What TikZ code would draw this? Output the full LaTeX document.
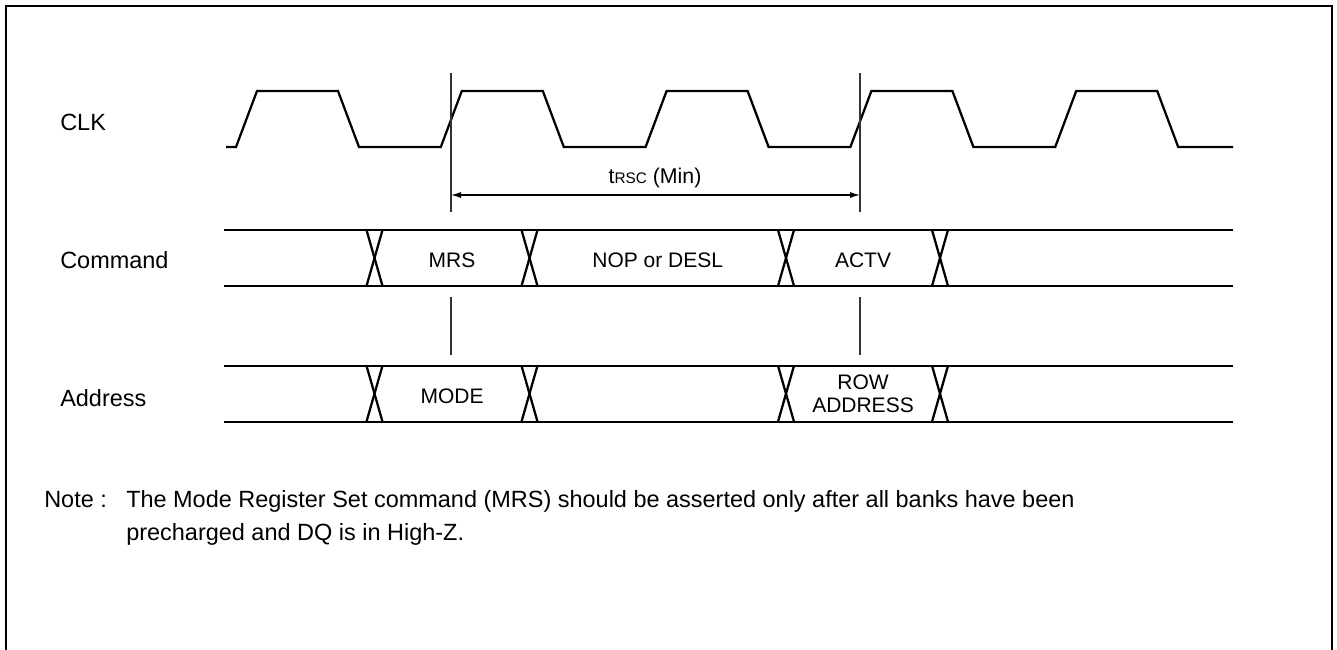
\documentclass[tikz,border=0pt]{standalone}
\usepackage{fontspec}
\setmainfont{Liberation Sans}
\usetikzlibrary{arrows.meta}
\begin{document}
\begin{tikzpicture}[x=0.75pt,y=-0.75pt,
  frame/.style={line width=1.8pt},
  wave/.style={line width=1.7pt, line join=miter},
  busline/.style={line width=1.7pt},
  guide/.style={line width=0.85pt, draw=black!80},
  dim/.style={line width=0.85pt, {Latex[length=7.5pt,width=4.5pt]}-{Latex[length=7.5pt,width=4.5pt]}},
  lbl/.style={font=\fontsize{17.6}{21}\selectfont, inner sep=0pt, anchor=base west},
  bustxt/.style={font=\fontsize{15.75}{17.6}\selectfont, inner sep=0pt, anchor=base},
]
\useasboundingbox (0,0) rectangle (1337,649);
% frame
\draw[frame] (6,660) -- (6,6) -- (1332,6) -- (1332,660);

% signal labels
\node[lbl] (clk) at (60,131) {CLK};
\node[lbl] (cmd) at (60,268.3) {Command};
\node[lbl] (addr) at (60,406.7) {Address};

% clock waveform
\draw[wave] (226,147) -- (236,147) -- (257,91) -- (338,91) -- (359,147)
  -- (440.8,147) -- (461.8,91) -- (542.8,91) -- (563.8,147)
  -- (645.6,147) -- (666.6,91) -- (747.6,91) -- (768.6,147)
  -- (850.4,147) -- (871.4,91) -- (952.4,91) -- (973.4,147)
  -- (1055.2,147) -- (1076.2,91) -- (1157.2,91) -- (1178.2,147) -- (1233,147);

% timing guides
\coordinate (g1a) at (451,73);   \coordinate (g1b) at (451,212);
\coordinate (g2a) at (860,73);   \coordinate (g2b) at (860,212);
\coordinate (g1c) at (451,297);  \coordinate (g1d) at (451,355);
\coordinate (g2c) at (860,297);  \coordinate (g2d) at (860,355);
\draw[guide] (g1a) -- (g1b);
\draw[guide] (g2a) -- (g2b);
\draw[guide] (g1c) -- (g1d);
\draw[guide] (g2c) -- (g2d);
\coordinate (d1) at (451,195);
\coordinate (d2) at (860,195);
\draw[dim] (d1) -- (d2);
\node[font=\fontsize{16}{19}\selectfont, inner sep=0pt, anchor=base] (trsc) at (655,183)
  {t{\fontsize{11.5}{13}\selectfont RSC} (Min)};

% buses
\foreach \yt/\yb in {230/286, 365.7/421.7}{
  \draw[busline] (224,\yt) -- (1233,\yt);
  \draw[busline] (224,\yb) -- (1233,\yb);
  \foreach \c in {374.5,529.5,786,940}{
    \draw[busline] (\c-8,\yt) -- (\c+8,\yb);
    \draw[busline] (\c-8,\yb) -- (\c+8,\yt);
  }
}

% bus contents
\node[bustxt] (mrs) at (452,267.7) {MRS};
\node[bustxt] (nop) at (657.75,267.7) {NOP or DESL};
\node[bustxt] (actv) at (863,267.7) {ACTV};
\node[bustxt] (mode) at (452,403.5) {MODE};
\node[font=\fontsize{15.75}{17.6}\selectfont, inner sep=0pt, align=center] (row) at (863,393.7) {ROW\\ADDRESS};

% note
\node[lbl] (note) at (44,507.3) {Note :};
\node[lbl] (note1) at (126,507.3) {The Mode Register Set command (MRS) should be asserted only after all banks have been};
\node[lbl] (note2) at (126,540) {precharged and DQ is in High-Z.};
\end{tikzpicture}
\end{document}
